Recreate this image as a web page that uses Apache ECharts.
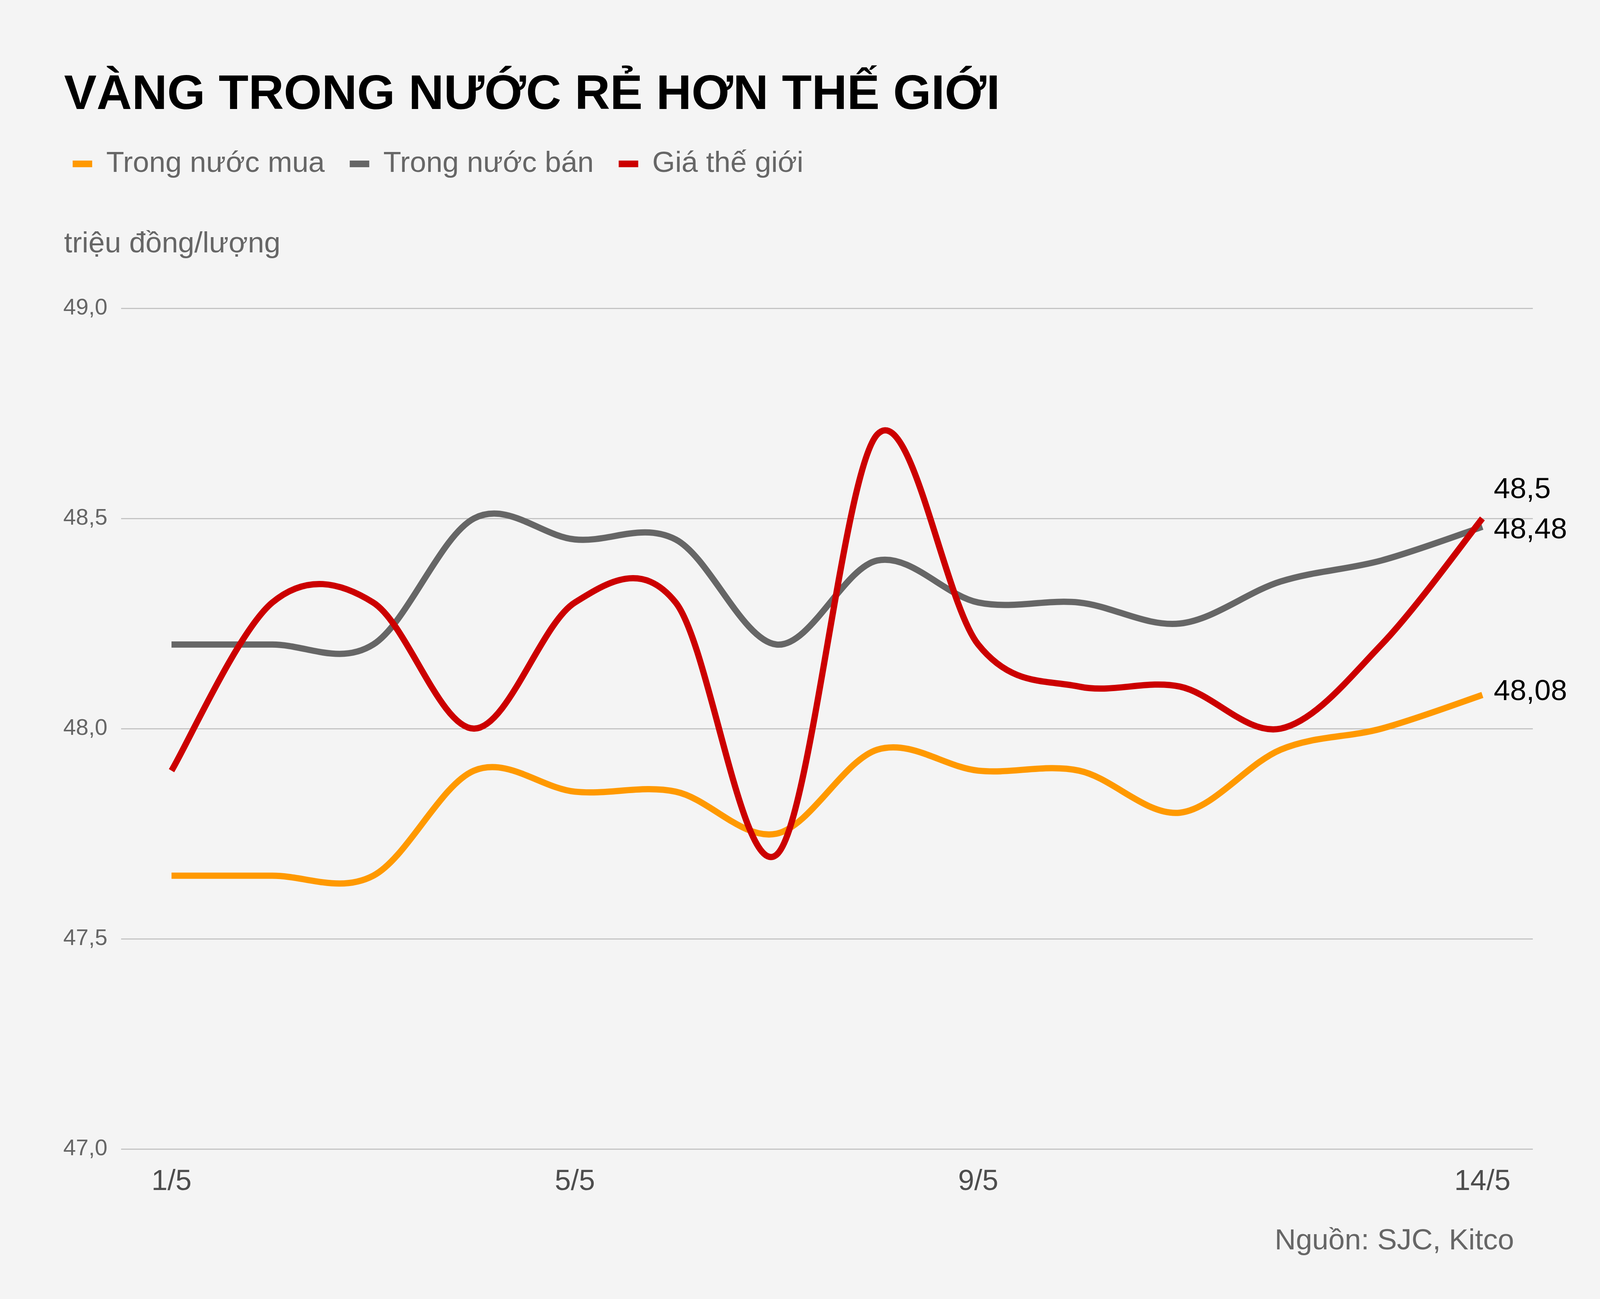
<!DOCTYPE html>
<html><head><meta charset="utf-8">
<script src="https://cdn.jsdelivr.net/npm/echarts@6/dist/echarts.min.js"></script>
<style>html,body{margin:0;padding:0;background:#f4f4f4}#c{width:4171px;height:3325px}</style>
</head><body><div id="c"></div>
<script>
const categories = ['1/5','2/5','3/5','4/5','5/5','6/5','7/5','8/5','9/5','10/5','11/5','12/5','13/5','14/5'];
const shownTicks = ['1/5','5/5','9/5','14/5'];
const seriesNames = ['Trong nước mua','Trong nước bán','Giá thế giới'];
const buyDomestic = [47.65,47.65,47.65,47.9,47.85,47.85,47.75,47.95,47.9,47.9,47.8,47.95,48.0,48.08];
const sellDomestic = [48.2,48.2,48.2,48.5,48.45,48.45,48.2,48.4,48.3,48.3,48.25,48.35,48.4,48.48];
const worldPrice = [47.9,48.3,48.3,48.0,48.3,48.3,47.7,48.7,48.2,48.1,48.1,48.0,48.2,48.5];
const yMin = 47.0, yMax = 49.0, yStep = 0.5;

const FONT = "'Liberation Sans', Arial, sans-serif";
const colors = ['#ff9900', '#666666', '#cc0000'];
const endOffsets = [-8, 9, -73];
const sources = [buyDomestic, sellDomestic, worldPrice];

function fmt(v) { return String(v).replace('.', ','); }

function makeRenderer(k) {
  return function (params, api) {
    if (params.dataIndex !== 0) return null;
    const arr = sources[k];
    const pts = arr.map((v, i) => api.coord([i, v]));
    const n = pts.length;
    let d = 'M' + pts[0][0] + ' ' + pts[0][1];
    for (let i = 0; i < n - 1; i++) {
      const p0 = pts[Math.max(i - 1, 0)], p1 = pts[i], p2 = pts[i + 1], p3 = pts[Math.min(i + 2, n - 1)];
      const c1x = p1[0] + (p2[0] - p0[0]) / 6, c1y = p1[1] + (p2[1] - p0[1]) / 6;
      const c2x = p2[0] - (p3[0] - p1[0]) / 6, c2y = p2[1] - (p3[1] - p1[1]) / 6;
      d += ' C' + c1x + ' ' + c1y + ' ' + c2x + ' ' + c2y + ' ' + p2[0] + ' ' + p2[1];
    }
    const last = pts[n - 1];
    return {
      type: 'group',
      children: [
        {type: 'path', shape: {pathData: d},
         style: {fill: 'none', stroke: colors[k], lineWidth: 16, lineCap: 'butt', lineJoin: 'round'}},
        {type: 'text', x: last[0] + 29, y: last[1] + endOffsets[k],
         style: {text: fmt(arr[n - 1]), fill: '#000', fontSize: 75, fontFamily: FONT,
                 align: 'left', verticalAlign: 'middle'}}
      ]
    };
  };
}

const chart = echarts.init(document.getElementById('c'), null, {renderer: 'canvas'});
const allSeries = sources.map((arr, k) => ({
  name: seriesNames[k],
  type: 'custom',
  coordinateSystem: 'cartesian2d',
  data: arr.map((v, i) => [i, v]),
  encode: {x: 0, y: 1},
  renderItem: makeRenderer(k),
  itemStyle: {color: colors[k]},
  silent: true,
  z: 2 + k
}));

chart.setOption({
  backgroundColor: '#f4f4f4',
  animation: false,
  color: colors,
  textStyle: {fontFamily: FONT},
  title: [
    {text: 'VÀNG TRONG NƯỚC RẺ HƠN THẾ GIỚI', left: 164, top: 182, padding: 0,
     textStyle: {fontSize: 125, fontWeight: 'bold', color: '#000', fontFamily: FONT}},
    {text: 'triệu đồng/lượng', left: 164, top: 588, padding: 0,
     textStyle: {fontSize: 75, fontWeight: 'normal', color: '#666', fontFamily: FONT}},
    {text: 'Nguồn: SJC, Kitco', right: 295, top: 3140, padding: 0,
     textStyle: {fontSize: 75, fontWeight: 'normal', color: '#666', fontFamily: FONT}}
  ],
  legend: {
    left: 186, top: 382, padding: 0,
    itemWidth: 50, itemHeight: 17, itemGap: 64,
    icon: 'rect',
    selectedMode: false,
    textStyle: {fontSize: 75, color: '#666', fontFamily: FONT, padding: [0, 0, 0, 31]},
    data: seriesNames
  },
  grid: {left: 310, right: 247, top: 789, bottom: 384, containLabel: false},
  xAxis: {
    type: 'category', data: categories, boundaryGap: true,
    axisLine: {show: false}, axisTick: {show: false},
    axisLabel: {
      interval: (i, v) => shownTicks.indexOf(v) >= 0,
      fontSize: 74, color: '#4d4d4d', margin: 48, fontFamily: FONT
    },
    splitLine: {show: false}
  },
  yAxis: {
    type: 'value', min: yMin, max: yMax, interval: yStep,
    axisLine: {show: false}, axisTick: {show: false},
    axisLabel: {formatter: v => v.toFixed(1).replace('.', ','), fontSize: 58, color: '#666', margin: 35, fontFamily: FONT},
    splitLine: {show: true, lineStyle: {color: '#c4c4c4', width: 3}}
  },
  series: allSeries
});
</script></body></html>
